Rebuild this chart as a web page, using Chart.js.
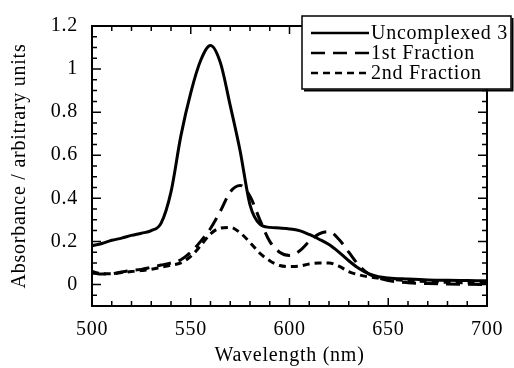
<!DOCTYPE html>
<html>
<head>
<meta charset="utf-8">
<script src="https://cdn.jsdelivr.net/npm/chart.js@4"></script>
<style>
  html, body { margin: 0; padding: 0; background: #fff; }
  #wrap { width: 514px; height: 368px; }
</style>
</head>
<body>
<div id="wrap"><canvas id="absChart" width="514" height="368"></canvas></div>
<script>
// Wavelength grid (nm)
const wavelengths = [500, 505, 510, 515, 520, 525, 530, 535, 540, 545, 550, 555, 560, 565, 570, 575,
  580, 585, 590, 595, 600, 605, 610, 615, 620, 625, 630, 635, 640, 645, 650, 660, 670, 680, 690, 700];

// Absorbance values
const uncomplexed = [0.18, 0.19, 0.205, 0.215, 0.228, 0.238, 0.25, 0.285, 0.43, 0.69, 0.89, 1.04, 1.11, 1.03, 0.83, 0.62,
  0.37, 0.28, 0.265, 0.262, 0.258, 0.25, 0.232, 0.21, 0.185, 0.15, 0.11, 0.075, 0.05, 0.036, 0.03, 0.025, 0.021, 0.019, 0.018, 0.017];
const fraction1 = [0.055, 0.048, 0.05, 0.058, 0.065, 0.07, 0.08, 0.09, 0.1, 0.115, 0.15, 0.2, 0.26, 0.34, 0.43, 0.46,
  0.41, 0.3, 0.2, 0.15, 0.135, 0.155, 0.2, 0.235, 0.245, 0.21, 0.15, 0.09, 0.05, 0.03, 0.018, 0.008, 0.004, 0.002, 0.001, 0.0];
const fraction2 = [0.06, 0.05, 0.05, 0.055, 0.06, 0.065, 0.07, 0.08, 0.09, 0.1, 0.13, 0.18, 0.235, 0.262, 0.265, 0.24,
  0.195, 0.145, 0.11, 0.088, 0.083, 0.085, 0.095, 0.1, 0.1, 0.085, 0.06, 0.045, 0.035, 0.03, 0.025, 0.018, 0.013, 0.01, 0.008, 0.007];

const seriesLabels = ['Uncomplexed 3', '1st Fraction', '2nd Fraction'];
const xTicks = [500, 550, 600, 650, 700];
const yTicks = [0, 0.2, 0.4, 0.6, 0.8, 1, 1.2];

const FONT = 'Liberation Serif';
Chart.defaults.font.family = FONT;
Chart.defaults.color = '#000';

function toPoints(vals) {
  return wavelengths.map((w, i) => ({ x: w, y: vals[i] }));
}

// the scanned Times face runs a little wider than Liberation Serif
const wideText = {
  id: 'wideText',
  beforeDraw(chart) { chart.ctx.letterSpacing = '0.75px'; }
};

// frame + inward ticks on all four sides
const frameTicks = {
  id: 'frameTicks',
  afterDatasetsDraw(chart) {
    const { ctx, chartArea: a, scales: { x, y } } = chart;
    ctx.save();
    ctx.strokeStyle = '#000';
    ctx.lineWidth = 2;
    ctx.strokeRect(a.left, a.top, a.right - a.left, a.bottom - a.top);
    ctx.lineWidth = 1.5;
    ctx.beginPath();
    for (let v = 500; v <= 700; v += 10) {
      const px = x.getPixelForValue(v);
      const len = v % 50 === 0 ? 8 : 5;
      ctx.moveTo(px, a.bottom); ctx.lineTo(px, a.bottom - len);
      ctx.moveTo(px, a.top); ctx.lineTo(px, a.top + len);
    }
    for (let i = -1; i <= 24; i++) {
      const py = y.getPixelForValue(i * 0.05);
      const len = i % 4 === 0 ? 9 : 5;
      ctx.moveTo(a.left, py); ctx.lineTo(a.left + len, py);
      ctx.moveTo(a.right, py); ctx.lineTo(a.right - len, py);
    }
    ctx.stroke();
    ctx.restore();
  }
};

// boxed legend that sits over the top right corner
const boxLegend = {
  id: 'boxLegend',
  afterDraw(chart) {
    const { ctx } = chart;
    const left = 302, top = 16, right = 511, bottom = 89;
    ctx.save();
    ctx.fillStyle = '#fff';
    ctx.fillRect(left, top, right - left, bottom - top);
    ctx.strokeStyle = '#000';
    ctx.lineWidth = 1.5;
    ctx.strokeRect(left, top, right - left, bottom - top);
    ctx.lineWidth = 2;
    ctx.beginPath();
    ctx.moveTo(left + 2, bottom + 1.5); ctx.lineTo(right + 1.5, bottom + 1.5); ctx.lineTo(right + 1.5, top + 2);
    ctx.stroke();
    ctx.font = '20px "' + FONT + '"';
    ctx.textBaseline = 'middle';
    ctx.fillStyle = '#000';
    chart.data.datasets.forEach((ds, i) => {
      const yy = 33 + i * 20;
      ctx.setLineDash(ds.borderDash || []);
      ctx.lineWidth = 2.5;
      ctx.beginPath();
      ctx.moveTo(311, yy); ctx.lineTo(369, yy);
      ctx.stroke();
      ctx.setLineDash([]);
      ctx.fillText(ds.label, 371, yy + 1);
    });
    ctx.restore();
  }
};

const commonLine = {
  borderColor: '#000',
  borderWidth: 3,
  pointRadius: 0,
  fill: false,
  cubicInterpolationMode: 'monotone'
};

new Chart(document.getElementById('absChart'), {
  type: 'line',
  data: {
    datasets: [
      { ...commonLine, label: seriesLabels[0], data: toPoints(uncomplexed) },
      { ...commonLine, label: seriesLabels[1], data: toPoints(fraction1), borderDash: [14, 8] },
      { ...commonLine, label: seriesLabels[2], data: toPoints(fraction2), borderDash: [7, 5] }
    ]
  },
  options: {
    responsive: false,
    animation: false,
    layout: { padding: { top: 22, right: 18, left: 0, bottom: 0 } },
    plugins: { legend: { display: false }, tooltip: { enabled: false } },
    scales: {
      x: {
        type: 'linear',
        min: 500,
        max: 700,
        afterBuildTicks: s => { s.ticks = xTicks.map(v => ({ value: v })); },
        afterFit: s => { s.height = 62; },
        grid: { display: false, drawTicks: false },
        border: { display: false },
        ticks: { font: { size: 20 }, padding: 12, maxRotation: 0, callback: v => String(v) },
        title: { display: true, text: 'Wavelength (nm)', font: { size: 20 }, padding: { top: 0, bottom: 0 } }
      },
      y: {
        min: -0.1,
        max: 1.2,
        afterBuildTicks: s => { s.ticks = yTicks.map(v => ({ value: v })); },
        afterFit: s => { s.width = 92; },
        grid: { display: false, drawTicks: false },
        border: { display: false },
        ticks: { font: { size: 20 }, padding: 14, callback: v => String(v) },
        title: { display: true, text: 'Absorbance / arbitrary units', font: { size: 20 }, padding: { top: 8, bottom: 0 } }
      }
    }
  },
  plugins: [wideText, frameTicks, boxLegend]
});
</script>
</body>
</html>
